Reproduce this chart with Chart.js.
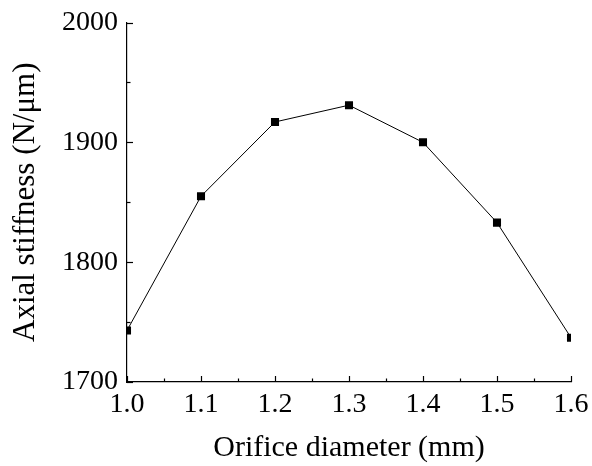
<!DOCTYPE html>
<html>
<head>
<meta charset="utf-8">
<script src="https://cdn.jsdelivr.net/npm/chart.js@4/dist/chart.umd.min.js"></script>
<style>
html,body{margin:0;padding:0;background:#fff;}
#wrap{width:592px;height:466px;position:relative;}
</style>
</head>
<body>
<div id="wrap"><canvas id="c" width="592" height="466"></canvas></div>
<script>
const diameters = [1.0, 1.1, 1.2, 1.3, 1.4, 1.5, 1.6];
const stiffness = [1743, 1855, 1917, 1931, 1900, 1833, 1737];
const xTitle = 'Orifice diameter (mm)';
const yTitle = 'Axial stiffness (N/\u03bcm)';
const FONT = "'Liberation Serif', 'Times New Roman', serif";

const inwardTicks = {
  id: 'inwardTicks',
  afterDraw(chart) {
    const ctx = chart.ctx;
    const area = chart.chartArea;
    ctx.save();
    ctx.strokeStyle = '#000';
    ctx.lineWidth = 1.2;
    const xs = chart.scales.x;
    xs.ticks.forEach(t => {
      const major = Math.abs(Math.round(t.value * 10) - t.value * 10) < 1e-6;
      const len = major ? 6 : 3.5;
      const px = Math.round(xs.getPixelForValue(t.value)) + 0.5;
      ctx.beginPath();
      ctx.moveTo(px, area.bottom);
      ctx.lineTo(px, area.bottom - len);
      ctx.stroke();
    });
    const ys = chart.scales.y;
    ys.ticks.forEach(t => {
      const major = t.value % 100 === 0;
      const len = major ? 6 : 3.5;
      const py = Math.round(ys.getPixelForValue(t.value)) + 0.5;
      ctx.beginPath();
      ctx.moveTo(area.left, py);
      ctx.lineTo(area.left + len, py);
      ctx.stroke();
    });
    ctx.restore();
  }
};

new Chart(document.getElementById('c'), {
  type: 'scatter',
  data: {
    datasets: [{
      data: diameters.map((d, i) => ({x: d, y: stiffness[i]})),
      showLine: true,
      borderColor: '#000',
      borderWidth: 1,
      backgroundColor: '#000',
      pointStyle: 'rect',
      pointRadius: 5.7,
      pointBorderWidth: 0,
      clip: 0
    }]
  },
  options: {
    responsive: false,
    animation: false,
    events: [],
    layout: {padding: {top: 22.5, right: 21, left: 0, bottom: 0}},
    plugins: {legend: {display: false}, tooltip: {enabled: false}},
    scales: {
      x: {
        type: 'linear',
        min: 1.0, max: 1.6,
        afterFit(s) { s.height = 84; s.paddingLeft = 0; s.paddingRight = 0; },
        grid: {display: false, drawTicks: false},
        border: {display: true, color: '#000', width: 1.2},
        ticks: {
          stepSize: 0.05,
          padding: 6,
          color: '#000',
          font: {family: FONT, size: 28},
          autoSkip: false,
          maxRotation: 0,
          callback(v) {
            const r = Math.round(v * 10);
            return Math.abs(r - v * 10) < 1e-6 ? (r / 10).toFixed(1) : '';
          }
        },
        title: {display: true, text: xTitle, color: '#000', font: {family: FONT, size: 30}, padding: {top: 0, bottom: 0}}
      },
      y: {
        min: 1700, max: 2000,
        afterFit(s) { s.width = 127; s.paddingTop = 0; s.paddingBottom = 0; },
        grid: {display: false, drawTicks: false},
        border: {display: true, color: '#000', width: 1.2},
        ticks: {
          stepSize: 50,
          padding: 9,
          color: '#000',
          font: {family: FONT, size: 28},
          autoSkip: false,
          callback(v) { return v % 100 === 0 ? String(v) : ''; }
        },
        title: {display: true, text: yTitle, color: '#000', font: {family: FONT, size: 31}, padding: {top: 7, bottom: 0}}
      }
    }
  },
  plugins: [inwardTicks]
});
</script>
</body>
</html>
